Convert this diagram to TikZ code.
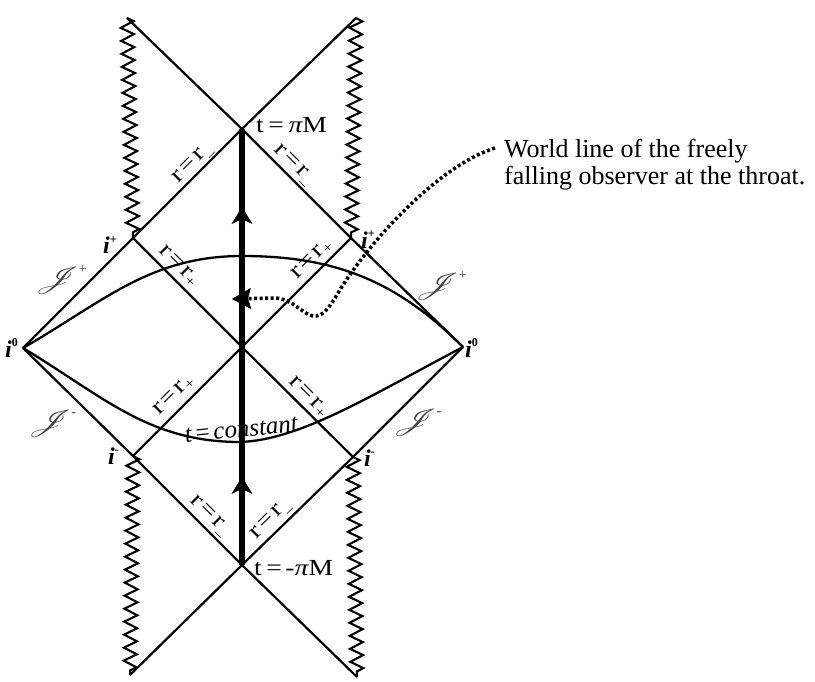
\documentclass[tikz,border=0pt]{standalone}
\usepackage{fontspec}
\setmainfont{Liberation Serif}
\newfontfamily\labfont{Liberation Serif}[FakeStretch=1.2]
\usepackage{mathrsfs}
\usepackage{graphicx}
\usetikzlibrary{arrows.meta,decorations.pathmorphing,decorations.markings}

\newcommand\rrm{r\hspace{0.12em}=\hspace{0.12em}r\raisebox{-0.3em}{\fontsize{14}{14}\selectfont –}}
\newcommand\rrp{r\hspace{0.12em}=\hspace{0.12em}r\raisebox{-0.15em}{\fontsize{14}{14}\selectfont +}}
\newcommand\ilab[1]{\textbf{\textit{i}}\raisebox{0.42em}{\fontsize{12}{12}\selectfont\bfseries #1}}
\newcommand\scrJ[1]{\scalebox{1.45}[1.1]{$\mathscr{J}$}\hspace{-0.05em}\raisebox{0.55em}{\fontsize{14}{14}\selectfont #1}}

\begin{document}
\begin{tikzpicture}[x=1pt,y=-1pt,
  nl/.style={line width=2.2pt},
  zz/.style={line width=2.1pt, decorate, decoration={zigzag,segment length=13pt,amplitude=6.5pt}},
  tconst/.style={line width=2.3pt},
  lab/.style={font=\labfont\fontsize{23}{23}\selectfont, inner sep=0pt},
  ilabel/.style={font=\fontsize{24}{24}\selectfont, inner sep=0pt, anchor=base west},
  scri/.style={font=\fontsize{24}{24}\selectfont, text=black!75, inner sep=0pt},
  ann/.style={font=\fontsize{26}{27}\selectfont, inner sep=0pt, anchor=base west},
  throatline/.style={line width=5.5pt},
  worldl/.style={line width=3.5pt, dash pattern=on 3pt off 2.5pt,
    -{Stealth[length=19pt,width=21pt,inset=3pt,line width=0.5pt]}}]
\useasboundingbox (0,0) rectangle (815,682);

% key points
\coordinate (TL) at (127,18);
\coordinate (TR) at (356,18);
\coordinate (T) at (242,129);
\coordinate (PL) at (133,238);
\coordinate (PR) at (351,238);
\coordinate (C) at (242,347);
\coordinate (OL) at (23,348);
\coordinate (OR) at (463,347);
\coordinate (ML) at (133,456);
\coordinate (MR) at (353,457);
\coordinate (B) at (242,565);
\coordinate (BL) at (130,675);
\coordinate (BR) at (357,677);
\coordinate (U) at (242,256);
\coordinate (D) at (240,442);

% null lines
\draw[nl] (TR) -- (T) -- (PL) -- (OL);
\draw[nl] (TL) -- (T) -- (PR) -- (OR);
\draw[nl] (OL) -- (ML) -- (B) -- (BR);
\draw[nl] (OR) -- (MR) -- (B) -- (BL);
\draw[nl] (PL) -- (C) -- (MR);
\draw[nl] (PR) -- (C) -- (ML);

% singularities
\draw[zz] (TL) -- (PL);
\draw[zz] (TR) -- (PR);
\draw[zz] (ML) -- (BL);
\draw[zz] (MR) -- (BR);

% t = constant slices
\draw[tconst] (OL) .. controls (103,302) and (150,256) .. (U)
               .. controls (335,256) and (397,281) .. (OR);
\draw[tconst] (OL) .. controls (104,397) and (149,442) .. (D)
               .. controls (300,440) and (370,396) .. (OR);

% throat world line
\draw[throatline, postaction={decorate, decoration={markings,
   mark=at position 0.202 with {\arrow{Stealth[length=17pt,width=21pt,inset=5pt,line width=0.5pt]}},
   mark=at position 0.821 with {\arrow{Stealth[length=17pt,width=21pt,inset=5pt,line width=0.5pt]}}}}]
   (B) -- (T);

% labels on lines
\node[lab, rotate=45]  (l1) at (194,165) {\rrm};
\node[lab, rotate=-45] (l2) at (292,166) {\rrm};
\node[lab, rotate=-45] (l3) at (178,266) {\rrp};
\node[lab, rotate=45]  (l4) at (312,260) {\rrp};
\node[lab, rotate=45]  (l5) at (174,396) {\rrp};
\node[lab, rotate=-45] (l6) at (308,397) {\rrp};
\node[lab, rotate=-45] (l7) at (208,517) {\rrm};
\node[lab, rotate=45]  (l8) at (272,521) {\rrm};

\node[lab, anchor=base west] (tp) at (256,133) {t\hspace{0.2em}=\hspace{0.2em}{\itshape π}M};
\node[lab, anchor=base west] (tm) at (254,575) {t\hspace{0.2em}=\hspace{0.15em}-{\itshape π}M};

\node[font=\itshape\fontsize{25}{25}\selectfont, inner sep=0pt, rotate=6, anchor=base] (tc) at (242,437) {t\hspace{0.1em}=\hspace{0.1em}constant};

% infinities
\node[ilabel] (ipl) at (103,254) {\ilab{+}};
\node[ilabel] (ipr) at (361,248) {\ilab{+}};
\node[ilabel] (i0l) at (5,357) {\ilab{0}};
\node[ilabel] (i0r) at (465,357) {\ilab{0}};
\node[ilabel] (iml) at (108,464) {\ilab{-}};
\node[ilabel] (imr) at (364,466) {\ilab{-}};

\node[scri] (j1) at (61,280) {\scrJ{+}};
\node[scri] (j2) at (441,286) {\scrJ{+}};
\node[scri] (j3) at (52,424) {\scrJ{-}};
\node[scri] (j4) at (417,423) {\scrJ{-}};

% annotation
\node[ann] (w1) at (504,158) {World line of the freely};
\node[ann] (w2) at (504,185) {falling observer at the throat.};

\coordinate (wend) at (495,148);
\coordinate (ob) at (232,299);
\draw[worldl] (wend) .. controls (440,165) and (370,240) .. (338,293)
   .. controls (328,310) and (322,317) .. (313,316)
   .. controls (304,315) and (292,299) .. (276,298) -- (ob);
\end{tikzpicture}
\end{document}
